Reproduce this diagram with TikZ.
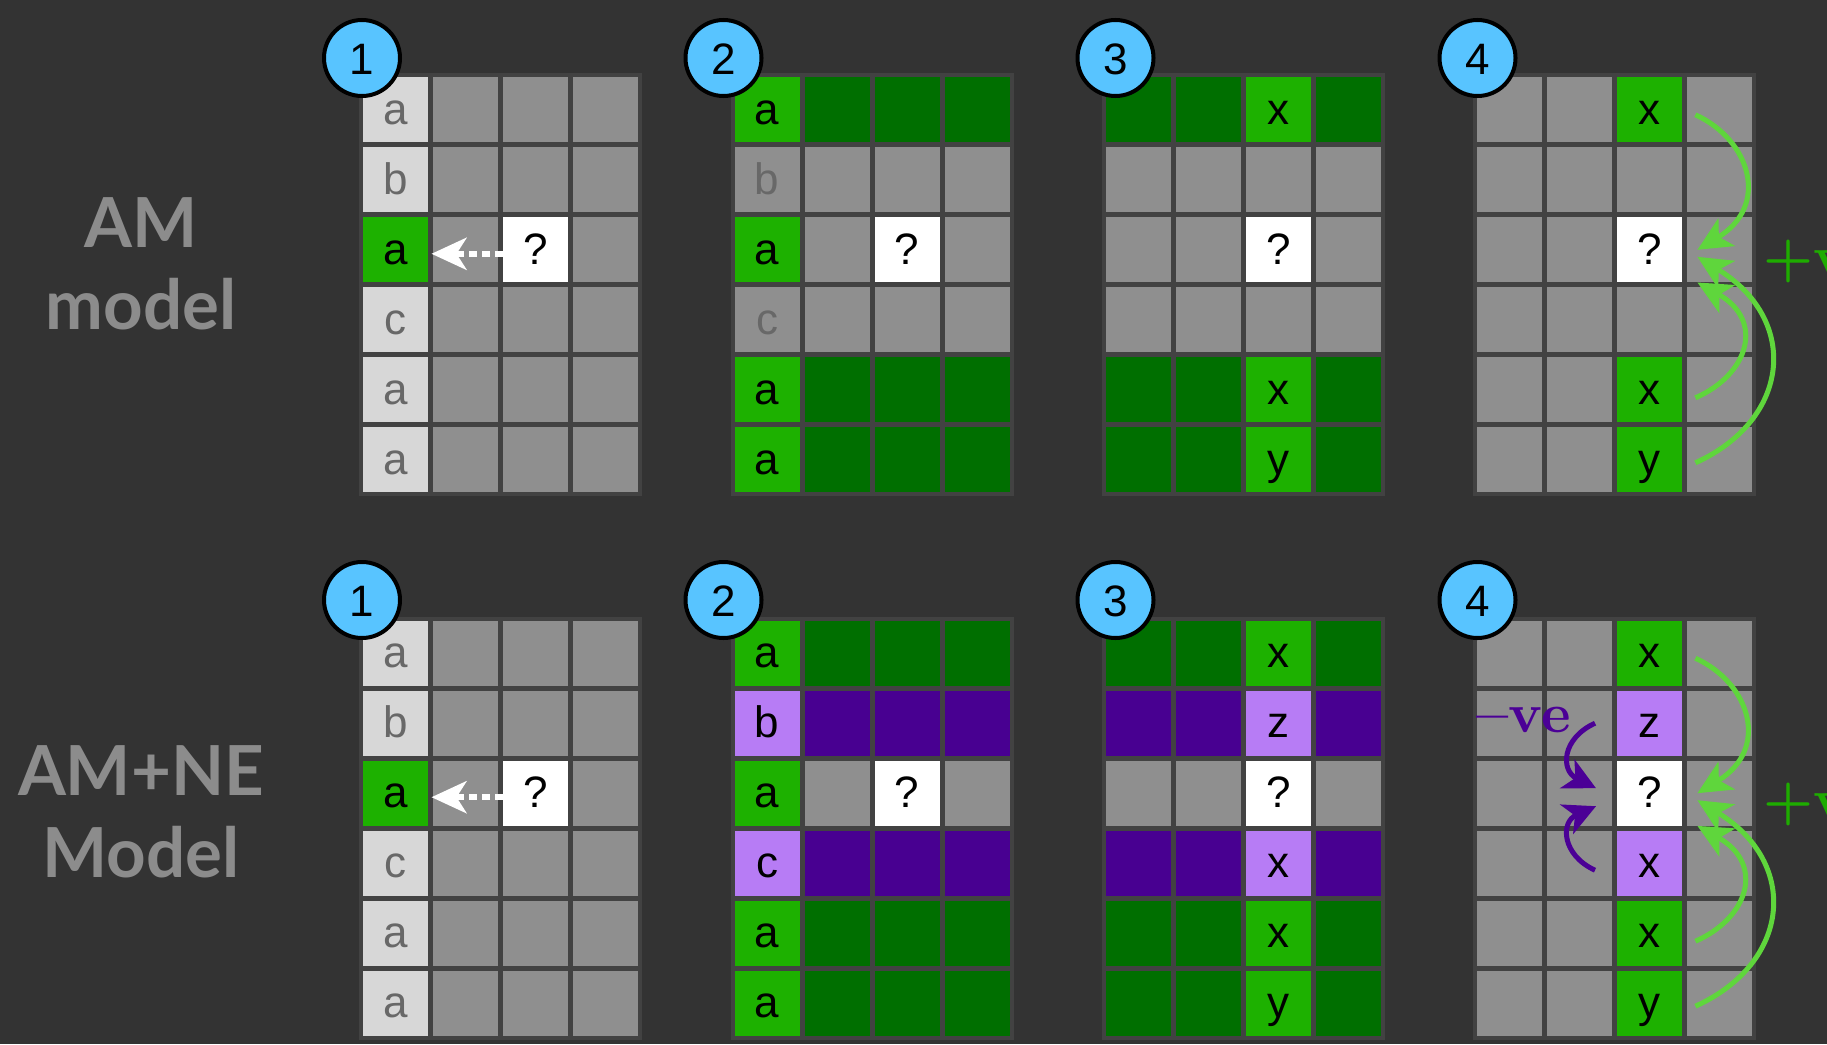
\documentclass[tikz,border=0pt]{standalone}
\usepackage{fontspec}
\newfontfamily\cellfont{Liberation Sans}
\newfontfamily\labelfont{Lato}
\newfontfamily\signfont{lmroman10-bold}[Extension=.otf, Ligatures=TeX]
\usetikzlibrary{arrows.meta}

\definecolor{bgdark}{RGB}{51,51,51}
\definecolor{gridframe}{RGB}{66,66,66}
\definecolor{cellgray}{RGB}{143,143,143}
\definecolor{celllight}{RGB}{215,215,215}
\definecolor{textgray}{RGB}{104,104,104}
\definecolor{cellgreen}{RGB}{29,177,0}
\definecolor{celldkgreen}{RGB}{0,111,0}
\definecolor{cellpurple}{RGB}{183,124,245}
\definecolor{celldkpurple}{RGB}{72,0,145}
\definecolor{badgeblue}{RGB}{88,196,255}
\definecolor{arrowgreen}{RGB}{95,214,60}
\definecolor{posgreen}{RGB}{30,172,0}
\definecolor{negpurple}{RGB}{75,0,150}
\definecolor{labelgray}{RGB}{140,140,140}

% one 6x4 table: name, left, top, rows
\newcommand{\drawgrid}[4]{%
  \fill[gridframe] (#2-4,#3-4) rectangle (#2+279,#3+419);
  \foreach \r/\sa/\ta/\sb/\tb/\sc/\tc/\sd/\td in {#4}{
    \node[cell,\sa] (#1-\r-1) at (#2+32.5,#3+70*\r-37.5) {\ta};
    \node[cell,\sb] (#1-\r-2) at (#2+102.5,#3+70*\r-37.5) {\tb};
    \node[cell,\sc] (#1-\r-3) at (#2+172.5,#3+70*\r-37.5) {\tc};
    \node[cell,\sd] (#1-\r-4) at (#2+242.5,#3+70*\r-37.5) {\td};
  }%
}

\begin{document}
\begin{tikzpicture}[x=1pt,y=-1pt,
  cell/.style={minimum size=65pt, inner sep=0pt, text height=34pt, text depth=5pt,
    font=\cellfont\fontsize{44}{44}\selectfont},
  cgray/.style={fill=cellgray, text=textgray},
  clight/.style={fill=celllight, text=textgray},
  cgreen/.style={fill=cellgreen, text=black},
  cdkgreen/.style={fill=celldkgreen},
  cpurple/.style={fill=cellpurple, text=black},
  cdkpurple/.style={fill=celldkpurple},
  cwhite/.style={fill=white, text=black},
  badge/.style={circle, draw=black, line width=4pt, fill=badgeblue, minimum size=76pt,
    inner sep=0pt, text height=32pt, text depth=0pt, font=\cellfont\fontsize{44}{44}\selectfont},
  modellabel/.style={anchor=base, text=labelgray, font=\labelfont\bfseries\fontsize{69}{69}\selectfont},
  signlabel/.style={anchor=base west, font=\signfont\fontsize{56}{56}\selectfont},
  posarrow/.style={draw=arrowgreen, line width=5pt, -{Stealth[length=34pt,width=32pt,inset=9pt]}},
  negarrow/.style={draw=negpurple, line width=5pt, -{Stealth[length=32pt,width=32pt,inset=9pt]}},
  dotarrow/.style={draw=white, line width=6pt, dash pattern=on 8pt off 5pt,
    -{Stealth[length=35pt,width=32pt,inset=10pt]}}]
\useasboundingbox (0,0) rectangle (1827,1044);
\fill[bgdark] (0,0) rectangle (1827,1044);

% AM model
\drawgrid{t1}{363.3}{77.3}{
  1/clight/a/cgray/{}/cgray/{}/cgray/{},
  2/clight/b/cgray/{}/cgray/{}/cgray/{},
  3/cgreen/a/cgray/{}/cwhite/?/cgray/{},
  4/clight/c/cgray/{}/cgray/{}/cgray/{},
  5/clight/a/cgray/{}/cgray/{}/cgray/{},
  6/clight/a/cgray/{}/cgray/{}/cgray/{}}
\drawgrid{t2}{734.6}{77.3}{
  1/cgreen/a/cdkgreen/{}/cdkgreen/{}/cdkgreen/{},
  2/cgray/b/cgray/{}/cgray/{}/cgray/{},
  3/cgreen/a/cgray/{}/cwhite/?/cgray/{},
  4/cgray/c/cgray/{}/cgray/{}/cgray/{},
  5/cgreen/a/cdkgreen/{}/cdkgreen/{}/cdkgreen/{},
  6/cgreen/a/cdkgreen/{}/cdkgreen/{}/cdkgreen/{}}
\drawgrid{t3}{1105.9}{77.3}{
  1/cdkgreen/{}/cdkgreen/{}/cgreen/x/cdkgreen/{},
  2/cgray/{}/cgray/{}/cgray/{}/cgray/{},
  3/cgray/{}/cgray/{}/cwhite/?/cgray/{},
  4/cgray/{}/cgray/{}/cgray/{}/cgray/{},
  5/cdkgreen/{}/cdkgreen/{}/cgreen/x/cdkgreen/{},
  6/cdkgreen/{}/cdkgreen/{}/cgreen/y/cdkgreen/{}}
\drawgrid{t4}{1477.2}{77.3}{
  1/cgray/{}/cgray/{}/cgreen/x/cgray/{},
  2/cgray/{}/cgray/{}/cgray/{}/cgray/{},
  3/cgray/{}/cgray/{}/cwhite/?/cgray/{},
  4/cgray/{}/cgray/{}/cgray/{}/cgray/{},
  5/cgray/{}/cgray/{}/cgreen/x/cgray/{},
  6/cgray/{}/cgray/{}/cgreen/y/cgray/{}}

% AM+NE model
\drawgrid{b1}{363.3}{620.7}{
  1/clight/a/cgray/{}/cgray/{}/cgray/{},
  2/clight/b/cgray/{}/cgray/{}/cgray/{},
  3/cgreen/a/cgray/{}/cwhite/?/cgray/{},
  4/clight/c/cgray/{}/cgray/{}/cgray/{},
  5/clight/a/cgray/{}/cgray/{}/cgray/{},
  6/clight/a/cgray/{}/cgray/{}/cgray/{}}
\drawgrid{b2}{734.6}{620.7}{
  1/cgreen/a/cdkgreen/{}/cdkgreen/{}/cdkgreen/{},
  2/cpurple/b/cdkpurple/{}/cdkpurple/{}/cdkpurple/{},
  3/cgreen/a/cgray/{}/cwhite/?/cgray/{},
  4/cpurple/c/cdkpurple/{}/cdkpurple/{}/cdkpurple/{},
  5/cgreen/a/cdkgreen/{}/cdkgreen/{}/cdkgreen/{},
  6/cgreen/a/cdkgreen/{}/cdkgreen/{}/cdkgreen/{}}
\drawgrid{b3}{1105.9}{620.7}{
  1/cdkgreen/{}/cdkgreen/{}/cgreen/x/cdkgreen/{},
  2/cdkpurple/{}/cdkpurple/{}/cpurple/z/cdkpurple/{},
  3/cgray/{}/cgray/{}/cwhite/?/cgray/{},
  4/cdkpurple/{}/cdkpurple/{}/cpurple/x/cdkpurple/{},
  5/cdkgreen/{}/cdkgreen/{}/cgreen/x/cdkgreen/{},
  6/cdkgreen/{}/cdkgreen/{}/cgreen/y/cdkgreen/{}}
\drawgrid{b4}{1477.2}{620.7}{
  1/cgray/{}/cgray/{}/cgreen/x/cgray/{},
  2/cgray/{}/cgray/{}/cpurple/z/cgray/{},
  3/cgray/{}/cgray/{}/cwhite/?/cgray/{},
  4/cgray/{}/cgray/{}/cpurple/x/cgray/{},
  5/cgray/{}/cgray/{}/cgreen/x/cgray/{},
  6/cgray/{}/cgray/{}/cgreen/y/cgray/{}}

% step numbers
\foreach \n/\bx in {1/362,2/723.5,3/1115.5,4/1477.5}{
  \node[badge] (tb\n) at (\bx,58) {\n};
  \node[badge] (bb\n) at (\bx,600) {\n};
}

% lookup arrows
\foreach \g in {t1,b1}{
  \draw[dotarrow] ([yshift=-4pt]\g-3-3.west) -- ([xshift=3pt,yshift=-4pt]\g-3-1.east);
}

% positive evidence
\foreach \g in {t4,b4}{
  \draw[posarrow] ([xshift=13pt,yshift=-5pt]\g-1-3.east)
    .. controls +(55,25) and +(73,-44) .. ([xshift=15pt]\g-3-3.east);
  \draw[posarrow] ([xshift=13pt,yshift=-8pt]\g-5-3.east)
    .. controls +(53,-23) and +(68,38) .. ([xshift=15pt]\g-3-3.south east);
  \draw[posarrow] ([xshift=13pt,yshift=-3pt]\g-6-3.east)
    .. controls +(95,-43) and +(103,63) .. ([xshift=15pt,yshift=-7pt]\g-3-3.east);
}

% negative evidence
\draw[negarrow] ([xshift=-22pt]b4-2-3.west)
  .. controls +(-33,15) and +(-36,-18) .. ([xshift=-21pt,yshift=5pt]b4-3-3.west);
\draw[negarrow] ([xshift=-22pt,yshift=-7pt]b4-4-3.west)
  .. controls +(-33,-15) and +(-36,16) .. ([xshift=-21pt,yshift=-13pt]b4-3-3.west);

\node[signlabel, text=posgreen] (postop) at (1760,275) {+ve};
\node[signlabel, text=posgreen] (posbot) at (1760,818) {+ve};
\node[signlabel, text=negpurple] (negbot) at (1473,732) {--ve};

\node[modellabel] (amA) at (141,247) {AM};
\node[modellabel] (amB) at (141,329) {model};
\node[modellabel] (neA) at (141,795) {AM+NE};
\node[modellabel] (neB) at (141,877) {Model};
\end{tikzpicture}
\end{document}
